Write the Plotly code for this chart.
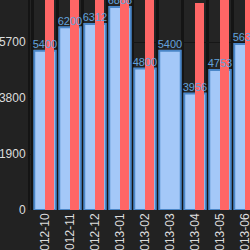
import plotly.graph_objects as go

months = ["2012-10", "2012-11", "2012-12", "2013-01", "2013-02", "2013-03", "2013-04", "2013-05", "2013-06"]
blue_vals = [5400, 6200, 6312, 6888, 4800, 5400, 3956, 4753, 5636]
red_vals = [7800, 8000, 8100, 8200, 7600, None, 7020, 7700, 7500]
y_ticks = [0, 1900, 3800, 5700]

fig = go.Figure()
fig.add_trace(go.Bar(
    x=months, y=blue_vals, width=0.86,
    marker=dict(color="#a4c8f8", line=dict(color="#4a86c8", width=2)),
    showlegend=False, hoverinfo="skip",
))
fig.add_trace(go.Bar(
    x=months, y=red_vals, width=0.36, offset=0.0,
    marker=dict(color="#ff6666", line=dict(width=0)),
    showlegend=False, hoverinfo="skip",
))
fig.add_trace(go.Scatter(
    x=months, y=blue_vals, mode="text",
    text=[str(v) for v in blue_vals], textposition="top center",
    textfont=dict(color="#62a2dc", size=11, family="Arial"),
    showlegend=False, hoverinfo="skip",
))

fig.update_layout(
    width=250, height=250,
    margin=dict(l=30, r=0, t=0, b=40),
    barmode="overlay",
    paper_bgcolor="#222222", plot_bgcolor="#242424",
    font=dict(family="Arial", color="#dddddd"),
)
fig.update_xaxes(
    type="category", range=[-0.6, 8.2], automargin=False,
    tickson="boundaries", showgrid=True, gridcolor="#141414", gridwidth=3,
    tickangle=-90, tickfont=dict(size=12, color="#dddddd"),
    ticks="", showline=False, zeroline=False,
)
fig.update_yaxes(
    range=[0, 7125], tickvals=y_ticks, ticktext=[str(v) for v in y_ticks],
    automargin=False,
    showgrid=True, gridcolor="#161616", gridwidth=1,
    tickfont=dict(size=12, color="#dddddd"), zeroline=False,
    showline=True, linecolor="#141414", linewidth=2, ticks="",
)

fig.write_html("out.html")
